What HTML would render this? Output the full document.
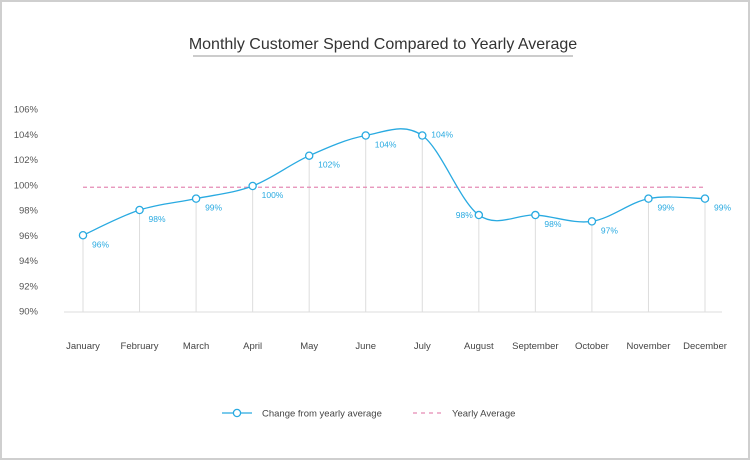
<!DOCTYPE html>
<html><head><meta charset="utf-8"><style>
body{margin:0;background:#fff;font-family:"Liberation Sans",sans-serif}
#frame{position:absolute;left:0;top:0;width:746px;height:456px;border:2px solid #cfcfcf;background:#fff}
svg{position:absolute;left:0;top:0}
</style></head><body>
<div id="frame"></div>
<svg id="c" width="750" height="460">
<text x="383" y="49" text-anchor="middle" font-size="16" fill="#333">Monthly Customer Spend Compared to Yearly Average</text>
<line x1="193" y1="56" x2="573" y2="56" stroke="#999" stroke-width="1"/>
<g id="legend">
<g>
<line x1="222" y1="413" x2="252" y2="413" stroke="#29aae1" stroke-width="1.3"/>
<circle cx="237" cy="413" r="3.6" fill="#fff" stroke="#29aae1" stroke-width="1.3"/>
<text x="262" y="416.5" font-size="9.5" fill="#444">Change from yearly average</text></g>
<g>
<line x1="413" y1="413" x2="443" y2="413" stroke="#e58bb5" stroke-width="1.3" stroke-dasharray="4,4"/>
<text x="452" y="416.5" font-size="9.5" fill="#444">Yearly Average</text></g>
</g>
</svg>
<script>
const categories=["January","February","March","April","May","June","July","August","September","October","November","December"];
const values=[96.0,98.0,98.9,99.9,102.3,103.9,103.9,97.6,97.6,97.1,98.9,98.9];
const valueLabels=["96%","98%","99%","100%","102%","104%","104%","98%","98%","97%","99%","99%"];
const yearlyAverage=[99.8];
const yTicks=[90,92,94,96,98,100,102,104,106];
const svg=document.getElementById('c');
const NS='http://www.w3.org/2000/svg';
const x=i=>83+i*(705-83)/(categories.length-1);
const y=v=>311-(v-90)*(311-109)/16;
function el(t,a,p){const e=document.createElementNS(NS,t);for(const k in a)e.setAttribute(k,a[k]);(p||svg).appendChild(e);return e;}
const base=el('line',{x1:64,y1:312,x2:722,y2:312,stroke:'#eee','stroke-width':2});


yTicks.forEach(t=>{const e=el('text',{x:38,y:y(t)+3.5,'text-anchor':'end','font-size':9.5,fill:'#555'});e.textContent=t+'%';

});
categories.forEach((c,i)=>{
const g=el('line',{x1:x(i),y1:y(values[i]),x2:x(i),y2:312,stroke:'#ddd','stroke-width':1});


const t=el('text',{x:x(i),y:349,'text-anchor':'middle','font-size':9.5,fill:'#444'});t.textContent=c;

});
const av=el('line',{x1:x(0),y1:y(yearlyAverage[0]),x2:x(11),y2:y(yearlyAverage[0]),stroke:'#e58bb5','stroke-width':1.3,'stroke-dasharray':'4,3'});


const P=values.map((v,i)=>[x(i),y(v)]);
let d='M'+P[0][0]+','+P[0][1];
for(let i=0;i<P.length-1;i++){const p0=P[Math.max(0,i-1)],p1=P[i],p2=P[i+1],p3=P[Math.min(P.length-1,i+2)];
const k=1/6;d+=' C'+(p1[0]+(p2[0]-p0[0])*k)+','+(p1[1]+(p2[1]-p0[1])*k)+' '+(p2[0]-(p3[0]-p1[0])*k)+','+(p2[1]-(p3[1]-p1[1])*k)+' '+p2[0]+','+p2[1];}
const line=el('path',{d:d,fill:'none',stroke:'#29aae1','stroke-width':1.3});


P.forEach((p,i)=>{
const c=el('circle',{cx:p[0],cy:p[1],r:3.6,fill:'#fff',stroke:'#29aae1','stroke-width':1.3});


let lx=p[0]+9,ly=p[1]+12,anc='start';
if(i===6){ly=p[1]+2;}
if(i===7){lx=p[0]-16;ly=p[1]+3;anc='end';lx=p[0]-6;}
const t=el('text',{x:lx,y:ly,'text-anchor':anc,'font-size':8.5,fill:'#29aae1'});t.textContent=valueLabels[i];

});
</script>
</body></html>
